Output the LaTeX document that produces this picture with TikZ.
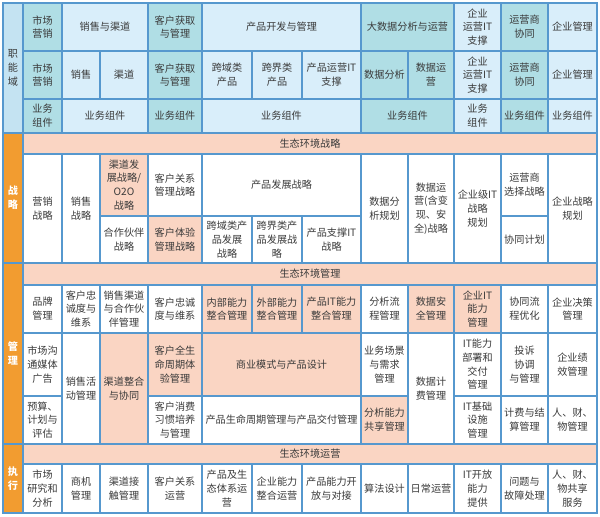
\documentclass[tikz,border=0pt]{standalone}
\usepackage{fontspec}
\setmainfont{Noto Sans CJK SC}
\usetikzlibrary{positioning}
\definecolor{lnBlue}{RGB}{86,152,206}
\definecolor{fTeal}{RGB}{176,222,229}
\definecolor{fSky}{RGB}{217,238,250}
\definecolor{fSide}{RGB}{196,227,242}
\definecolor{fPeach}{RGB}{250,213,195}
\definecolor{dOrange}{RGB}{242,156,48}
\definecolor{tGray}{RGB}{58,58,58}

% style, name, x1, y1, x2, y2, text (pixel grid)
\newcommand{\cell}[7]{\node[#1,minimum width={(#5-#3)*0.75pt},minimum height={(#6-#4)*0.75pt}] (#2) at ({(#3+#5)/2},{(#4+#6)/2}) {#7};}

\begin{document}
\begin{tikzpicture}[x=0.75pt,y=-0.75pt,
  cbox/.style={draw=lnBlue,line width=0.9pt,inner sep=0pt,outer sep=0pt,align=center,text=tGray,font=\fontsize{7.6pt}{10.3pt}\selectfont},
  wbox/.style={cbox,fill=white},
  tbox/.style={cbox,fill=fTeal},
  sbox/.style={cbox,fill=fSky},
  pbox/.style={cbox,fill=fPeach},
  obox/.style={cbox,fill=dOrange,text=white,font=\fontsize{7.6pt}{10.3pt}\selectfont\bfseries},
  frame/.style={draw=lnBlue,line width=1.4pt}]
  \useasboundingbox (0,0) rectangle (600,517);

  \cell{cbox,fill=fSide}{side}{3}{3}{23}{133}{职\\能\\域}
  \cell{tbox}{g1}{23}{3}{62}{51}{市场\\营销}
  \cell{sbox}{g2}{62}{3}{148}{51}{销售与渠道}
  \cell{tbox}{g3}{148}{3}{202}{51}{客户获取\\与管理}
  \cell{sbox}{g4}{202}{3}{361}{51}{产品开发与管理}
  \cell{tbox}{g5}{361}{3}{454}{51}{大数据分析与运营}
  \cell{sbox}{g6}{454}{3}{501}{51}{企业\\运营IT\\支撑}
  \cell{tbox}{g7}{501}{3}{548}{51}{运营商\\协同}
  \cell{sbox}{g8}{548}{3}{597}{51}{企业管理}

  \cell{tbox}{f1}{23}{51}{62}{99}{市场\\营销}
  \cell{sbox}{f2}{62}{51}{100}{99}{销售}
  \cell{sbox}{f3}{100}{51}{148}{99}{渠道}
  \cell{tbox}{f4}{148}{51}{202}{99}{客户获取\\与管理}
  \cell{sbox}{f5}{202}{51}{252}{99}{跨域类\\产品}
  \cell{sbox}{f6}{252}{51}{302}{99}{跨界类\\产品}
  \cell{sbox}{f7}{302}{51}{361}{99}{产品运营IT\\支撑}
  \cell{tbox}{f8}{361}{51}{408}{99}{数据分析}
  \cell{tbox}{f9}{408}{51}{454}{99}{数据运\\营}
  \cell{sbox}{f10}{454}{51}{501}{99}{企业\\运营IT\\支撑}
  \cell{tbox}{f11}{501}{51}{548}{99}{运营商\\协同}
  \cell{sbox}{f12}{548}{51}{597}{99}{企业管理}

  \cell{tbox}{b1}{23}{99}{62}{133}{业务\\组件}
  \cell{sbox}{b2}{62}{99}{148}{133}{业务组件}
  \cell{tbox}{b3}{148}{99}{202}{133}{业务组件}
  \cell{sbox}{b4}{202}{99}{361}{133}{业务组件}
  \cell{tbox}{b5}{361}{99}{454}{133}{业务组件}
  \cell{sbox}{b6}{454}{99}{501}{133}{业务\\组件}
  \cell{tbox}{b7}{501}{99}{548}{133}{业务组件}
  \cell{sbox}{b8}{548}{99}{597}{133}{业务组件}

  \cell{obox}{zl}{3}{133}{23}{263}{战\\略}
  \cell{pbox}{zb}{23}{133}{597}{154}{生态环境战略}
  \cell{wbox}{z1}{23}{154}{62}{263}{营销\\战略}
  \cell{wbox}{z2}{62}{154}{100}{263}{销售\\战略}
  \cell{pbox}{z3a}{100}{154}{148}{216}{渠道发\\展战略/\\O2O\\战略}
  \cell{wbox}{z3b}{100}{216}{148}{263}{合作伙伴\\战略}
  \cell{wbox}{z4a}{148}{154}{202}{216}{客户关系\\管理战略}
  \cell{pbox}{z4b}{148}{216}{202}{263}{客户体验\\管理战略}
  \cell{wbox}{z5a}{202}{154}{361}{216}{产品发展战略}
  \cell{wbox}{z5b}{202}{216}{252}{263}{跨域类产\\品发展\\战略}
  \cell{wbox}{z6b}{252}{216}{302}{263}{跨界类产\\品发展战\\略}
  \cell{wbox}{z7b}{302}{216}{361}{263}{产品支撑IT\\战略}
  \cell{wbox}{z8}{361}{154}{408}{263}{数据分\\析规划}
  \cell{wbox}{z9}{408}{154}{454}{263}{数据运\\营(含变\\现、安\\全)战略}
  \cell{wbox}{z10}{454}{154}{501}{263}{企业级IT\\战略\\规划}
  \cell{wbox}{z11a}{501}{154}{548}{216}{运营商\\选择战略}
  \cell{wbox}{z11b}{501}{216}{548}{263}{协同计划}
  \cell{wbox}{z12}{548}{154}{597}{263}{企业战略\\规划}

  \cell{obox}{ml}{3}{263}{23}{444}{管\\理}
  \cell{pbox}{mb}{23}{263}{597}{285}{生态环境管理}
  \cell{wbox}{m1}{23}{285}{62}{333}{品牌\\管理}
  \cell{wbox}{m2}{62}{285}{100}{333}{客户忠\\诚度与\\维系}
  \cell{wbox}{m3}{100}{285}{148}{333}{销售渠道\\与合作伙\\伴管理}
  \cell{wbox}{m4}{148}{285}{202}{333}{客户忠诚\\度与维系}
  \cell{pbox}{m5}{202}{285}{252}{333}{内部能力\\整合管理}
  \cell{pbox}{m6}{252}{285}{302}{333}{外部能力\\整合管理}
  \cell{pbox}{m7}{302}{285}{361}{333}{产品IT能力\\整合管理}
  \cell{wbox}{m8}{361}{285}{408}{333}{分析流\\程管理}
  \cell{pbox}{m9}{408}{285}{454}{333}{数据安\\全管理}
  \cell{pbox}{m10}{454}{285}{501}{333}{企业IT\\能力\\管理}
  \cell{wbox}{m11}{501}{285}{548}{333}{协同流\\程优化}
  \cell{wbox}{m12}{548}{285}{597}{333}{企业决策\\管理}

  \cell{wbox}{n1}{23}{333}{62}{396}{市场沟\\通媒体\\广告}
  \cell{wbox}{k1}{23}{396}{62}{444}{预算、\\计划与\\评估}
  \cell{wbox}{n2}{62}{333}{100}{444}{销售活\\动管理}
  \cell{pbox}{n3}{100}{333}{148}{444}{渠道整合\\与协同}
  \cell{pbox}{n4}{148}{333}{202}{396}{客户全生\\命周期体\\验管理}
  \cell{wbox}{k4}{148}{396}{202}{444}{客户消费\\习惯培养\\与管理}
  \cell{pbox}{n5}{202}{333}{361}{396}{商业模式与产品设计}
  \cell{wbox}{k5}{202}{396}{361}{444}{产品生命周期管理与产品交付管理}
  \cell{wbox}{n8}{361}{333}{408}{396}{业务场景\\与需求\\管理}
  \cell{pbox}{k8}{361}{396}{408}{444}{分析能力\\共享管理}
  \cell{wbox}{n9}{408}{333}{454}{444}{数据计\\费管理}
  \cell{wbox}{n10}{454}{333}{501}{396}{IT能力\\部署和\\交付\\管理}
  \cell{wbox}{k10}{454}{396}{501}{444}{IT基础\\设施\\管理}
  \cell{wbox}{n11}{501}{333}{548}{396}{投诉\\协调\\与管理}
  \cell{wbox}{k11}{501}{396}{548}{444}{计费与结\\算管理}
  \cell{wbox}{n12}{548}{333}{597}{396}{企业绩\\效管理}
  \cell{wbox}{k12}{548}{396}{597}{444}{人、财、\\物管理}

  \cell{obox}{el}{3}{444}{23}{513}{执\\行}
  \cell{pbox}{eb}{23}{444}{597}{464}{生态环境运营}
  \cell{wbox}{e1}{23}{464}{62}{513}{市场\\研究和\\分析}
  \cell{wbox}{e2}{62}{464}{100}{513}{商机\\管理}
  \cell{wbox}{e3}{100}{464}{148}{513}{渠道接\\触管理}
  \cell{wbox}{e4}{148}{464}{202}{513}{客户关系\\运营}
  \cell{wbox}{e5}{202}{464}{252}{513}{产品及生\\态体系运\\营}
  \cell{wbox}{e6}{252}{464}{302}{513}{企业能力\\整合运营}
  \cell{wbox}{e7}{302}{464}{361}{513}{产品能力开\\放与对接}
  \cell{wbox}{e8}{361}{464}{408}{513}{算法设计}
  \cell{wbox}{e9}{408}{464}{454}{513}{日常运营}
  \cell{wbox}{e10}{454}{464}{501}{513}{IT开放\\能力\\提供}
  \cell{wbox}{e11}{501}{464}{548}{513}{问题与\\故障处理}
  \cell{wbox}{e12}{548}{464}{597}{513}{人、财、\\物共享\\服务}

  \draw[frame] (side.north west) rectangle (b8.south east);
  \draw[frame] (zl.north west) rectangle (z12.south east);
  \draw[frame] (ml.north west) rectangle (k12.south east);
  \draw[frame] (el.north west) rectangle (e12.south east);
\end{tikzpicture}
\end{document}
